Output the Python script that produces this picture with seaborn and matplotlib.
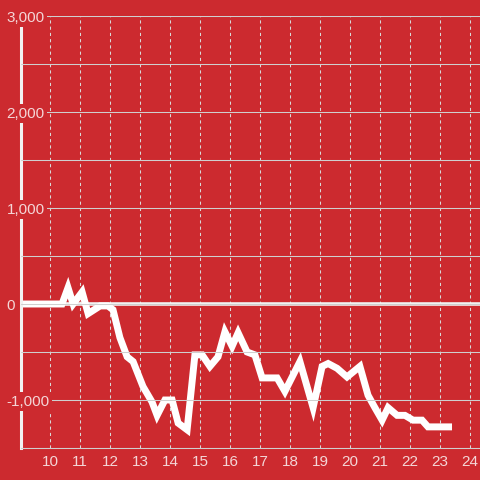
import matplotlib
matplotlib.use("Agg")
import matplotlib.pyplot as plt
from matplotlib.ticker import MultipleLocator, FixedLocator
import seaborn as sns

# ---------- data ----------
hours = [8.9, 10.4, 10.6, 10.77, 11.07, 11.27, 11.67, 11.93, 12.1, 12.33,
         12.57, 12.77, 13.1, 13.4, 13.57, 13.83, 14.07, 14.27, 14.57, 14.83,
         15.07, 15.33, 15.6, 15.83, 16.07, 16.27, 16.57, 16.83, 17.07, 17.57,
         17.83, 18.33, 18.77, 19.07, 19.27, 19.57, 19.9, 20.33, 20.6, 20.83,
         21.07, 21.27, 21.57, 21.83, 22.1, 22.4, 22.6, 23.4]
values = [0, 0, 170, 0, 125, -100, -20, -20, -60, -350,
          -550, -600, -860, -1020, -1160, -1000, -1000, -1240, -1310, -530,
          -530, -650, -550, -290, -440, -300, -500, -530, -770, -770,
          -910, -600, -1080, -650, -620, -670, -760, -650, -950, -1080,
          -1210, -1080, -1160, -1160, -1210, -1210, -1280, -1280]
x_ticks = list(range(10, 25))
y_ticks = [-1000, 0, 1000, 2000, 3000]

RED = "#cc2a2f"
TXT = "#f4d6d7"

sns.set_theme(style="white")
plt.rcParams["font.family"] = ["Liberation Sans", "DejaVu Sans"]

fig = plt.figure(figsize=(4.8, 4.8), dpi=100, facecolor=RED)
ax = fig.add_axes([21 / 480, 32 / 480, 459 / 480, 432 / 480])
ax.set_facecolor(RED)

sns.lineplot(x=hours, y=values, ax=ax, color="white", lw=5,
             estimator=None, sort=False)
for l in ax.lines:
    l.set_solid_joinstyle("miter")
    l.set_solid_capstyle("butt")

ax.set_xlim(9.033, 24.333)
ax.set_ylim(-1500, 3000)

# grid
ax.xaxis.set_major_locator(FixedLocator(x_ticks))
ax.yaxis.set_major_locator(FixedLocator(y_ticks))
ax.yaxis.set_minor_locator(MultipleLocator(500))
ax.grid(axis="x", which="major", color="#d9d9d9", lw=0.75, ls=(0, (3, 3)))
ax.grid(axis="y", which="both", color="#cfcfcf", lw=0.75, ls="-")
ax.axhline(0, color="#f2f2f2", lw=2.6, zorder=1.5)
ax.set_axisbelow(True)

for s in ["top", "right"]:
    ax.spines[s].set_visible(False)
ax.spines["left"].set_color("#f2f2f2")
ax.spines["left"].set_linewidth(2.2)
ax.spines["bottom"].set_color("#cfcfcf")
ax.spines["bottom"].set_linewidth(0.75)

ax.set_xticklabels([str(t) for t in x_ticks])
ax.set_yticklabels([f"{v:,.0f}" for v in y_ticks])
ax.tick_params(axis="both", which="both", length=0, labelsize=11,
               labelcolor=TXT)
ax.tick_params(axis="x", pad=5)
ax.tick_params(axis="y", pad=10.5)
for lbl in ax.get_yticklabels():
    lbl.set_horizontalalignment("left")
    lbl.set_bbox(dict(facecolor=RED, edgecolor="none", pad=1.5))
ax.yaxis.set_zorder(3)
ax.set_xlabel("")
ax.set_ylabel("")

fig.savefig("out.png", dpi=100, facecolor=RED)
